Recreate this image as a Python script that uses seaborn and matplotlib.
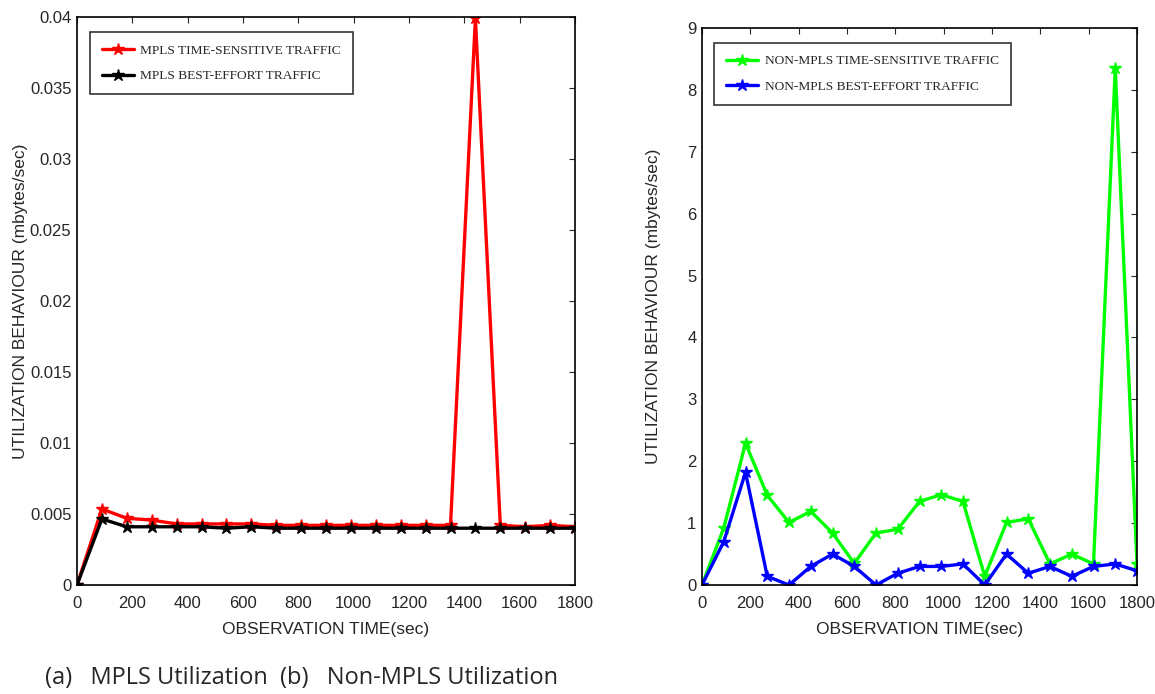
import numpy as np
import pandas as pd
import seaborn as sns
import matplotlib.pyplot as plt
from matplotlib.ticker import FuncFormatter

# observation times (sec)
obs_time = [0, 90, 180, 270, 360, 450, 540, 630, 720, 810, 900,
            990, 1080, 1170, 1260, 1350, 1440, 1530, 1620, 1710, 1800]

# (a) MPLS utilization (mbytes/sec)
mpls_ts = [0, 0.00535, 0.0047, 0.00457, 0.0043, 0.0043, 0.0043, 0.0043, 0.0042, 0.0042, 0.0042,
           0.0042, 0.0042, 0.0042, 0.0042, 0.0042, 0.0399, 0.0042, 0.0041, 0.0042, 0.0041]
mpls_be = [0, 0.00465, 0.0041, 0.0041, 0.0041, 0.0041, 0.004, 0.0041, 0.004, 0.004, 0.004,
           0.004, 0.004, 0.004, 0.004, 0.004, 0.004, 0.004, 0.004, 0.004, 0.004]

# (b) Non-MPLS utilization (mbytes/sec)
nonmpls_ts = [0, 0.92, 2.29, 1.45, 1.01, 1.19, 0.84, 0.35, 0.84, 0.9, 1.35,
              1.46, 1.35, 0.14, 1.01, 1.07, 0.34, 0.5, 0.34, 8.35, 0.34]
nonmpls_be = [0, 0.7, 1.82, 0.14, 0, 0.3, 0.5, 0.3, 0, 0.19, 0.3,
              0.3, 0.34, 0, 0.5, 0.19, 0.3, 0.14, 0.3, 0.34, 0.23]

sns.set_style("white")
plt.rcParams['font.family'] = ['Liberation Sans', 'DejaVu Sans']

fig = plt.figure(figsize=(11.55, 6.94), dpi=100)
ax1 = fig.add_axes([77/1155, 109/694, 498/1155, 568/694])
ax2 = fig.add_axes([702/1155, 109/694, 435/1155, 557/694])

def draw(ax, ys, labels, colors, ylab_x):
    for y, lab, c in zip(ys, labels, colors):
        df = pd.DataFrame({"t": obs_time, "u": y})
        sns.lineplot(data=df, x="t", y="u", ax=ax, color=c, linewidth=2.4,
                     marker="*", markersize=9, markeredgewidth=1, markeredgecolor=c,
                     label=lab)
    ax.set_xlim(0, 1800)
    ax.set_xticks(range(0, 1801, 200))
    ax.tick_params(direction="in", top=True, right=True, labelsize=12, length=4, width=0.8)
    ax.tick_params(axis="x", pad=8)
    ax.tick_params(axis="y", pad=4)
    for s in ax.spines.values():
        s.set_visible(True)
        s.set_color("black")
        s.set_linewidth(1.2)
    ax.set_xlabel("OBSERVATION TIME(sec)", fontsize=12.5, labelpad=8)
    ax.set_ylabel("UTILIZATION BEHAVIOUR (mbytes/sec)", fontsize=12.5)
    ax.yaxis.set_label_coords(ylab_x, 0.5)
    leg = ax.legend(loc="upper left", prop={"family": "Liberation Serif", "size": 9.6},
                    frameon=True, fancybox=False, edgecolor="black", borderpad=0.9,
                    handlelength=2.4, handletextpad=0.5, labelspacing=1.0,
                    bbox_to_anchor=(0.012, 0.985))
    leg.get_frame().set_linewidth(1.2)

draw(ax1, [mpls_ts, mpls_be],
     ["MPLS TIME-SENSITIVE TRAFFIC", "MPLS BEST-EFFORT TRAFFIC"], ["#ff0000", "#000000"], -0.098)
ax1.set_ylim(0, 0.04)
ax1.set_yticks(np.arange(0, 0.0401, 0.005))
ax1.yaxis.set_major_formatter(FuncFormatter(lambda v, p: "%g" % round(v, 4)))

draw(ax2, [nonmpls_ts, nonmpls_be],
     ["NON-MPLS TIME-SENSITIVE TRAFFIC", "NON-MPLS BEST-EFFORT TRAFFIC"], ["#00ff00", "#0000ff"], -0.095)
ax2.set_ylim(0, 9)
ax2.set_yticks(range(0, 10))

fig.text(45/1155, 1 - 678/694, "(a)   MPLS Utilization  (b)   Non-MPLS Utilization",
         fontsize=17, family="Open Sans", va="center", ha="left")

fig.savefig("out.png", dpi=100)
